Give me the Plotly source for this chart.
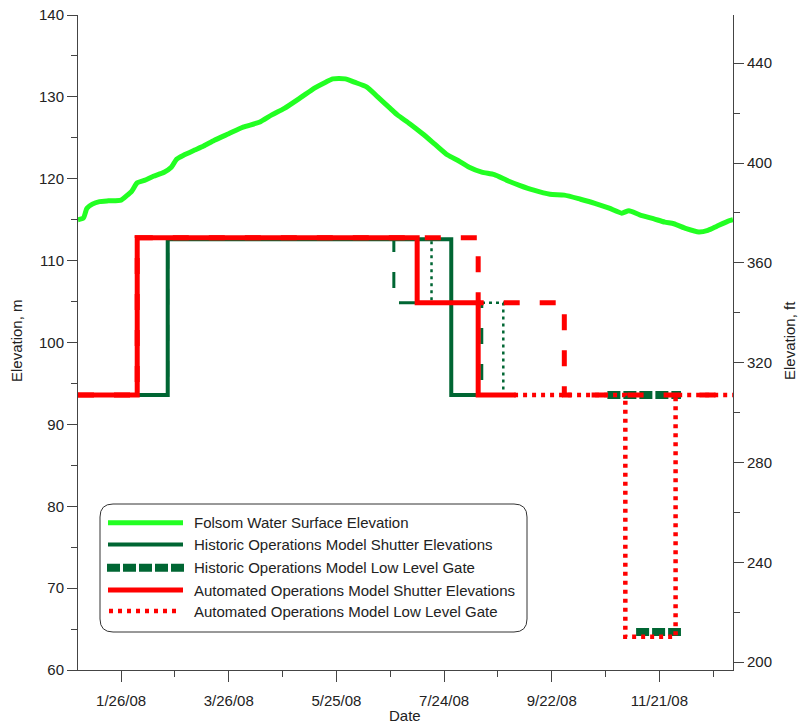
import plotly.graph_objects as go

# ---------------- data ----------------
surface_dates = ["2008-01-02", "2008-01-05", "2008-01-07", "2008-01-10", "2008-01-14", "2008-01-19",
                 "2008-01-26", "2008-01-29", "2008-02-01", "2008-02-04", "2008-02-08", "2008-02-13",
                 "2008-02-19", "2008-02-23", "2008-02-26", "2008-03-01", "2008-03-07", "2008-03-12",
                 "2008-03-18", "2008-03-26", "2008-04-03", "2008-04-12", "2008-04-19", "2008-04-26",
                 "2008-05-05", "2008-05-13", "2008-05-19", "2008-05-23", "2008-05-30", "2008-06-04",
                 "2008-06-11", "2008-06-17", "2008-06-24", "2008-06-28", "2008-07-05", "2008-07-12",
                 "2008-07-19", "2008-07-26", "2008-08-01", "2008-08-07", "2008-08-14", "2008-08-21",
                 "2008-08-28", "2008-09-04", "2008-09-12", "2008-09-21", "2008-09-29", "2008-10-08",
                 "2008-10-16", "2008-10-24", "2008-10-31", "2008-11-04", "2008-11-10", "2008-11-18",
                 "2008-11-24", "2008-11-29", "2008-12-06", "2008-12-13", "2008-12-18", "2008-12-23",
                 "2008-12-29", "2009-01-01"]
surface_m = [115.0, 115.2, 116.4, 116.9, 117.2, 117.3,
             117.4, 117.9, 118.5, 119.5, 119.8, 120.3,
             120.8, 121.4, 122.4, 122.9, 123.5, 124.0,
             124.7, 125.5, 126.3, 126.9, 127.8, 128.6,
             129.9, 131.1, 131.8, 132.2, 132.2, 131.8,
             131.2, 130.0, 128.6, 127.8, 126.7, 125.5,
             124.2, 122.9, 122.2, 121.4, 120.8, 120.5,
             119.8, 119.2, 118.6, 118.1, 118.0, 117.5,
             117.0, 116.4, 115.8, 116.1, 115.6, 115.1,
             114.7, 114.5, 113.9, 113.5, 113.7, 114.2,
             114.8, 115.0]

hist_shutter_dates = ["2008-01-02", "2008-02-21", "2008-07-28", "2008-09-02"]
hist_shutter_m = [93.6, 112.6, 93.6, 93.6]

hist_dash_dates = ["2008-01-02", "2008-02-21", "2008-06-26", "2008-08-14", "2008-09-02"]
hist_dash_m = [93.6, 112.6, 104.85, 93.6, 93.6]

hist_dot_dates = ["2008-01-02", "2008-02-21", "2008-07-17", "2008-08-26", "2008-09-02"]
hist_dot_m = [93.6, 112.6, 104.85, 93.6, 93.6]

hist_llg_dates = ["2008-10-23", "2008-12-03", None, "2008-11-08", "2008-12-03"]
hist_llg_m = [93.6, 93.6, None, 64.65, 64.65]

auto_shutter_dates = ["2008-01-02", "2008-02-04", "2008-07-09", "2008-08-12", "2008-09-02"]
auto_shutter_m = [93.6, 112.8, 104.85, 93.6, 93.6]

auto_dash_dates = ["2008-01-02", "2008-02-04", "2008-08-12", "2008-09-29", "2009-01-01"]
auto_dash_m = [93.6, 112.8, 104.85, 93.6, 93.6]

auto_llg_dates = ["2008-09-01", "2008-11-02", "2008-11-30", "2009-01-01"]
auto_llg_m = [93.6, 64.05, 93.6, 93.6]

legend_labels = ["Folsom Water Surface Elevation",
                 "Historic Operations Model Shutter Elevations",
                 "Historic Operations Model Low Level Gate",
                 "Automated Operations Model Shutter Elevations",
                 "Automated Operations Model Low Level Gate"]

# ---------------- styles ----------------
LIME = "#22FF22"
DKGREEN = "#006633"
RED = "#FF0000"
FONT = "Arial, Liberation Sans, sans-serif"
AXC = "#444444"
TXT = "#222222"

fig = go.Figure()

def step(x, y, color, width, dash, shape="hv"):
    fig.add_trace(go.Scatter(x=x, y=y, mode="lines", line=dict(color=color, width=width, dash=dash, shape=shape),
                             connectgaps=False, showlegend=False, hoverinfo="skip"))

step(hist_dot_dates, hist_dot_m, DKGREEN, 2.5, "3px,4px")
step(hist_dash_dates, hist_dash_m, DKGREEN, 3, "16px,20px")
step(hist_shutter_dates, hist_shutter_m, DKGREEN, 4, "solid")
step(hist_llg_dates, hist_llg_m, DKGREEN, 8, "13px,3px", shape="linear")
step(auto_llg_dates, auto_llg_m, RED, 4.5, "4px,5px")
step(auto_dash_dates, auto_dash_m, RED, 5, "16px,20px")
step(auto_shutter_dates, auto_shutter_m, RED, 5, "solid")
fig.add_trace(go.Scatter(x=surface_dates, y=surface_m, mode="lines",
                         line=dict(color=LIME, width=5, shape="spline", smoothing=0.6),
                         showlegend=False, hoverinfo="skip"))
# dummy trace so the right axis is drawn
fig.add_trace(go.Scatter(x=[surface_dates[0]], y=[None], yaxis="y2", mode="lines", showlegend=False, hoverinfo="skip"))

# ---------------- layout ----------------
L, R, T, B = 78, 733, 15, 670
W, H = 799, 724
PW, PH = R - L, B - T

def px(x):
    return (x - L) / PW

def py(y):
    return (B - y) / PH

DAY = 86400000
tickfont = dict(family=FONT, size=15, color=TXT)

fig.update_layout(
    width=W, height=H,
    margin=dict(l=L, r=W - R, t=T, b=H - B, pad=0),
    paper_bgcolor="white", plot_bgcolor="white",
    font=dict(family=FONT, size=15, color=TXT),
    xaxis=dict(type="date", range=["2008-01-02", "2009-01-01"], automargin=False,
               tick0="2008-01-26", dtick=60 * DAY, tickformat="%-m/%-d/%y",
               ticks="outside", ticklen=11, tickwidth=1, tickcolor=AXC, ticklabelstandoff=6,
               minor=dict(tick0="2008-01-26", dtick=30 * DAY, ticks="outside", ticklen=6, tickcolor=AXC, showgrid=False),
               showline=True, linecolor=AXC, linewidth=1, showgrid=False, zeroline=False,
               tickfont=tickfont),
    yaxis=dict(range=[60, 140], dtick=10, tick0=0, automargin=False,
               ticks="outside", ticklen=10, tickwidth=1, tickcolor=AXC,
               minor=dict(dtick=5, ticks="outside", ticklen=6, tickcolor=AXC, showgrid=False),
               showline=True, linecolor=AXC, linewidth=1, showgrid=False, zeroline=False,
               tickfont=tickfont),
    yaxis2=dict(overlaying="y", side="right", anchor="x", automargin=False,
                range=[60 / 0.3048, 140 / 0.3048], dtick=40, tick0=0,
                ticks="outside", ticklen=10, tickwidth=1, tickcolor=AXC,
                minor=dict(dtick=20, ticks="outside", ticklen=6, tickcolor=AXC, showgrid=False),
                showline=True, linecolor=AXC, linewidth=1, showgrid=False, zeroline=False,
                tickfont=tickfont),
)

# ---------------- axis titles ----------------
annotations = [
    dict(xref="paper", yref="paper", x=px(16), y=py(341), text="Elevation, m", textangle=-90, showarrow=False,
         xanchor="center", yanchor="middle", font=dict(family=FONT, size=15, color=TXT)),
    dict(xref="paper", yref="paper", x=px(789), y=py(341), text="Elevation, ft", textangle=-90, showarrow=False,
         xanchor="center", yanchor="middle", font=dict(family=FONT, size=15, color=TXT)),
    dict(xref="paper", yref="paper", x=px(405), y=py(715), text="Date", showarrow=False,
         xanchor="center", yanchor="middle", font=dict(family=FONT, size=15, color=TXT)),
]

# ---------------- hand-built legend ----------------
bx0, bx1, by0, by1, r = 100, 527, 504, 632, 13
rx, ry = r / PW, r / PH
x0, x1, y0, y1 = px(bx0), px(bx1), py(by1), py(by0)
path = (f"M {x0+rx},{y0} L {x1-rx},{y0} Q {x1},{y0} {x1},{y0+ry} L {x1},{y1-ry} Q {x1},{y1} {x1-rx},{y1} "
        f"L {x0+rx},{y1} Q {x0},{y1} {x0},{y1-ry} L {x0},{y0+ry} Q {x0},{y0} {x0+rx},{y0} Z")
shapes = [dict(type="path", xref="paper", yref="paper", path=path, line=dict(color="#333333", width=1),
               fillcolor="white", layer="above")]

rows_y = [522.7, 544.5, 567.7, 590, 611]
samples = [(108, 183, LIME, 5, "solid"),
           (108, 183, DKGREEN, 4, "solid"),
           (107, 185, DKGREEN, 8, "13px,3px"),
           (108, 183, RED, 5, "solid"),
           (109, 178, RED, 4.5, "4px,5px")]
for yy, (sx0, sx1, col, w, dsh), lab in zip(rows_y, samples, legend_labels):
    shapes.append(dict(type="line", xref="paper", yref="paper", x0=px(sx0), x1=px(sx1), y0=py(yy), y1=py(yy),
                       line=dict(color=col, width=w, dash=dsh), layer="above"))
    annotations.append(dict(xref="paper", yref="paper", x=px(192), y=py(yy), text=lab, showarrow=False,
                            xanchor="left", yanchor="middle", font=dict(family=FONT, size=15, color=TXT)))

fig.update_layout(shapes=shapes, annotations=annotations)

fig.write_html("out.html", config={"displayModeBar": False},
               post_script="document.body.style.margin='0';document.body.style.overflow='hidden';")
